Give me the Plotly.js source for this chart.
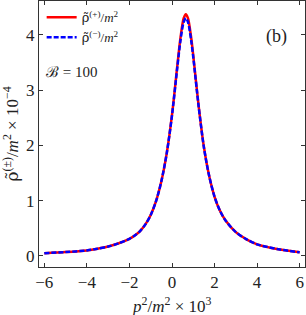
<!DOCTYPE html>
<html><head><meta charset="utf-8">
<script src="https://cdn.plot.ly/plotly-3.0.1.min.js"></script>
<style>html,body{margin:0;padding:0;background:#fff}#c{width:306px;height:315px}</style>
</head><body><div id="c"></div>
<script>
const xVals = [-6, -5, -4, -3.5, -3, -2.5, -2, -1.75, -1.5, -1.25, -1, -0.75, -0.5, -0.25, 0, 0.25, 0.4, 0.55, 0.65, 0.75, 0.9, 1, 1.25, 1.5, 1.75, 2, 2.25, 2.5, 3, 3.5, 4, 5, 6];
const rhoPlus = [0.05, 0.07, 0.10, 0.13, 0.17, 0.23, 0.31, 0.37, 0.45, 0.57, 0.74, 0.99, 1.35, 1.85, 2.55, 3.44, 3.95, 4.30, 4.37, 4.30, 3.95, 3.62, 2.72, 1.97, 1.44, 1.07, 0.82, 0.65, 0.43, 0.30, 0.21, 0.12, 0.067];
const rhoMinus = [0.05, 0.07, 0.10, 0.13, 0.17, 0.23, 0.31, 0.37, 0.45, 0.57, 0.74, 0.99, 1.35, 1.85, 2.54, 3.41, 3.90, 4.23, 4.30, 4.23, 3.90, 3.59, 2.71, 1.96, 1.44, 1.07, 0.82, 0.65, 0.43, 0.30, 0.21, 0.12, 0.067];
const xTicks = [-6, -4, -2, 0, 2, 4, 6];
const yTicks = [0, 1, 2, 3, 4];
const rt = '<span style="font-family:DejaVu Serif">ρ̃</span>';
const seriesNames = [rt + '<sup>(+)</sup>/<i>m</i><sup>2</sup>', rt + '<sup>(−)</sup>/<i>m</i><sup>2</sup>'];

const font = 'Liberation Serif, DejaVu Serif, serif';
const traces = [
  {x: xVals, y: rhoPlus, name: seriesNames[0], mode: 'lines', line: {color: '#ff0000', width: 2.5, shape: 'spline', smoothing: 0.8}},
  {x: xVals, y: rhoMinus, name: seriesNames[1], mode: 'lines', line: {color: '#0000ff', width: 2.5, dash: '5px,2px', shape: 'spline', smoothing: 0.8}}
];
const axisCommon = {showgrid: false, zeroline: false, showline: true, linecolor: '#333', linewidth: 1, mirror: 'allticks', ticks: 'inside', ticklen: 4, tickcolor: '#333', tickfont: {family: font, size: 17, color: '#222'}};
const layout = {
  width: 306, height: 315,
  margin: {l: 39, r: 1, t: 1, b: 48},
  paper_bgcolor: '#fff', plot_bgcolor: '#fff',
  showlegend: true,
  legend: {x: 0.01, y: 0.995, xanchor: 'left', yanchor: 'top', bgcolor: 'rgba(0,0,0,0)', font: {family: font, size: 13, color: '#222'}, itemwidth: 30, tracegroupgap: 0},
  xaxis: Object.assign({}, axisCommon, {range: [-6.25, 6.25], tickvals: xTicks, ticktext: xTicks.map(v => v < 0 ? '−' + Math.abs(v) : String(v))}),
  yaxis: Object.assign({}, axisCommon, {range: [-0.2, 4.61], tickvals: yTicks,
    title: {text: rt + '<sup>(±)</sup>/<i>m</i><sup>2</sup> × 10<sup>−4</sup>', font: {family: font, size: 17, color: '#222'}, standoff: 6}}),
  annotations: [
    {xref: 'paper', yref: 'paper', x: 0.5, y: -0.142, yanchor: 'middle', text: '<i>p</i><sup>2</sup>/<i>m</i><sup>2</sup> × 10<sup>3</sup>', showarrow: false, font: {family: font, size: 17, color: '#222'}},
    {xref: 'paper', yref: 'paper', x: 0.94, y: 0.915, text: '(b)', showarrow: false, font: {family: font, size: 18, color: '#222'}},
    {xref: 'paper', yref: 'paper', x: 0.02, y: 0.77, xanchor: 'left', text: 'ℬ = 100', showarrow: false, font: {family: font, size: 15, color: '#222'}}
  ]
};
Plotly.newPlot('c', traces, layout, {displayModeBar: false, staticPlot: true});
</script></body></html>
